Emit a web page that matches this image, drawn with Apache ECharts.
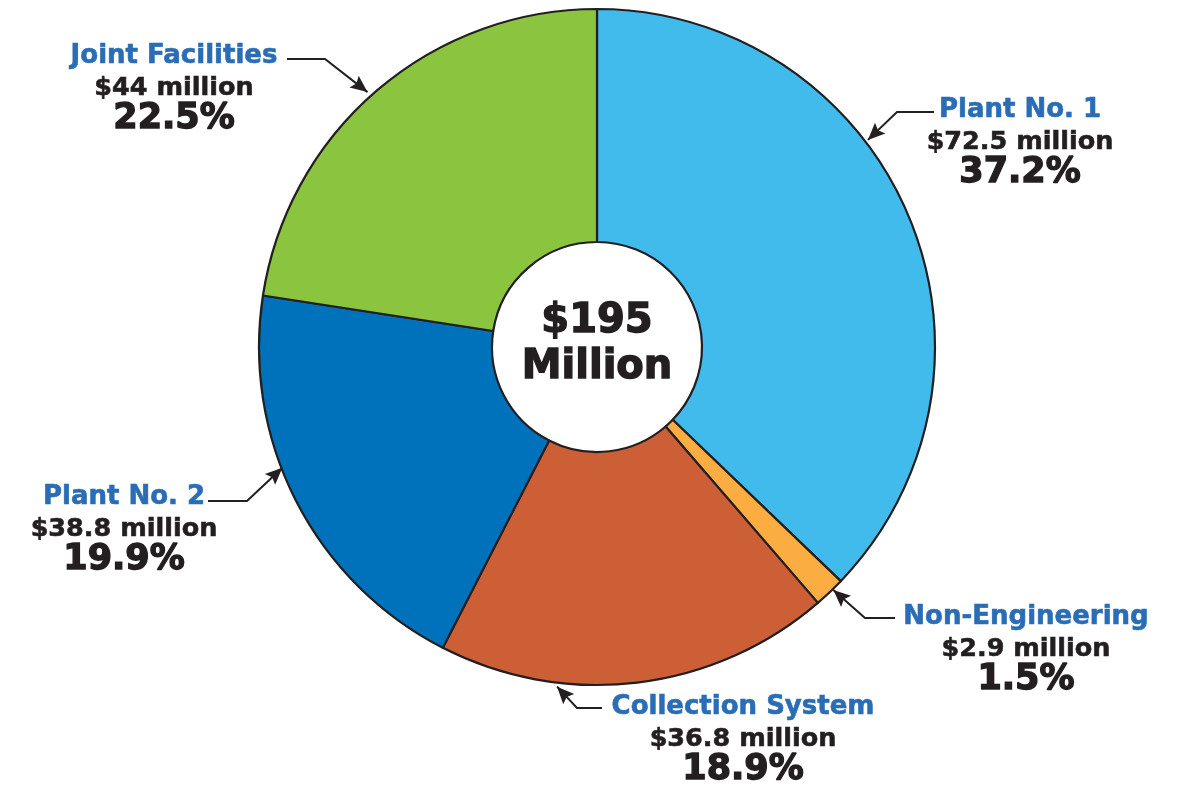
<!DOCTYPE html>
<html><head><meta charset="utf-8">
<script src="https://cdn.jsdelivr.net/npm/echarts@6/dist/echarts.min.js"></script>
<style>html,body{margin:0;padding:0;background:#fff}#chart{width:1192px;height:789px}</style>
</head><body><div id="chart"></div>
<script>
// ---- data ----
const categories = ['Plant No. 1', 'Non-Engineering', 'Collection System', 'Plant No. 2', 'Joint Facilities'];
const amounts = [72.5, 2.9, 36.8, 38.8, 44];
const percentLabels = ['37.2%', '1.5%', '18.9%', '19.9%', '22.5%'];
const totalLines = ['$195', 'Million'];

// ---- styles / layout ----
const sliceColors = ['#40bbeb', '#fbad42', '#cd5f37', '#0071bb', '#8bc53f'];
const INK = '#231f20';
const TITLE_BLUE = '#2a6db5';
const CX = 597, CY = 347, R_OUT = 338, R_IN = 105;
const FONT = '"DejaVu Sans", "Liberation Sans", sans-serif';
// label block: centre x, top y; leader: tip angle (deg clockwise from top), tip radius, elbow, end
const labelCfg = [
  { x: 1020, top: 94,  tipAngle: 52.6,  tipR: 341, elbow: [897, 112], end: [934, 112] },
  { x: 1026, top: 601, tipAngle: 135.8, tipR: 339, elbow: [865, 618], end: [895, 618] },
  { x: 743,  top: 691, tipAngle: 186.7, tipR: 342, elbow: [577, 708], end: [602, 708] },
  { x: 124,  top: 481, tipAngle: 249.0, tipR: 337, elbow: [247, 501], end: [208, 501] },
  { x: 174,  top: 40,  tipAngle: 318.0, tipR: 343, elbow: [325, 59],  end: [287, 59] }
];

function tipPoint(c) {
  const a = c.tipAngle * Math.PI / 180;
  return [CX + c.tipR * Math.sin(a), CY - c.tipR * Math.cos(a)];
}
function arrowHead(c) {
  const t = tipPoint(c);
  let dx = t[0] - c.elbow[0], dy = t[1] - c.elbow[1];
  const len = Math.hypot(dx, dy); dx /= len; dy /= len;
  const L = 17, W = 7.5, notch = 14;
  const bx = t[0] - dx * L, by = t[1] - dy * L;
  const nx = t[0] - dx * notch, ny = t[1] - dy * notch;
  return [t, [bx - dy * W, by + dx * W], [nx, ny], [bx + dy * W, by - dx * W]];
}

const chart = echarts.init(document.getElementById('chart'), null, { renderer: 'canvas' });

const seriesData = categories.map((name, i) => ({
  name, value: amounts[i], itemStyle: { color: sliceColors[i] }
}));

chart.setOption({
  animation: false,
  backgroundColor: '#ffffff',
  series: [{
    type: 'pie',
    center: [CX, CY],
    radius: [R_IN, R_OUT],
    startAngle: 90,
    clockwise: true,
    avoidLabelOverlap: false,
    emphasis: { disabled: true },
    itemStyle: { borderColor: INK, borderWidth: 2.2 },
    data: seriesData,
    label: {
      show: true,
      position: 'outside',
      formatter: p => '{t|' + p.name + '}\n{a|$' + p.value + ' million}\n{p|' + percentLabels[p.dataIndex] + '}',
      rich: {
        t: { fontFamily: FONT, fontWeight: 'bold', fontSize: 26, color: TITLE_BLUE, lineHeight: 32, align: 'center',
             textBorderColor: TITLE_BLUE, textBorderWidth: 0.6 },
        a: { fontFamily: FONT, fontWeight: 'bold', fontSize: 25.5, color: INK, lineHeight: 32, align: 'center',
             textBorderColor: INK, textBorderWidth: 0.6 },
        p: { fontFamily: FONT, fontWeight: 'bold', fontSize: 35, color: INK, lineHeight: 30, align: 'center',
             textBorderColor: INK, textBorderWidth: 1.4 }
      }
    },
    labelLine: { show: true, lineStyle: { color: INK, width: 2 } },
    labelLayout: function (params) {
      const c = labelCfg[params.dataIndex];
      return {
        x: c.x, y: c.top, align: 'center', verticalAlign: 'top',
        labelLinePoints: [tipPoint(c), c.elbow, c.end]
      };
    }
  }],
  graphic: [
    {
      type: 'text', x: CX, y: CY - 2, z: 100,
      style: {
        text: totalLines.join('\n'),
        fontFamily: FONT, fontWeight: 'bold', fontSize: 40, lineHeight: 46,
        fill: INK, stroke: INK, lineWidth: 1.4,
        textAlign: 'center', textVerticalAlign: 'middle'
      }
    }
  ].concat(labelCfg.map(c => ({
    type: 'polygon', z: 100,
    shape: { points: arrowHead(c) },
    style: { fill: INK }
  })))
});
</script>
</body></html>
